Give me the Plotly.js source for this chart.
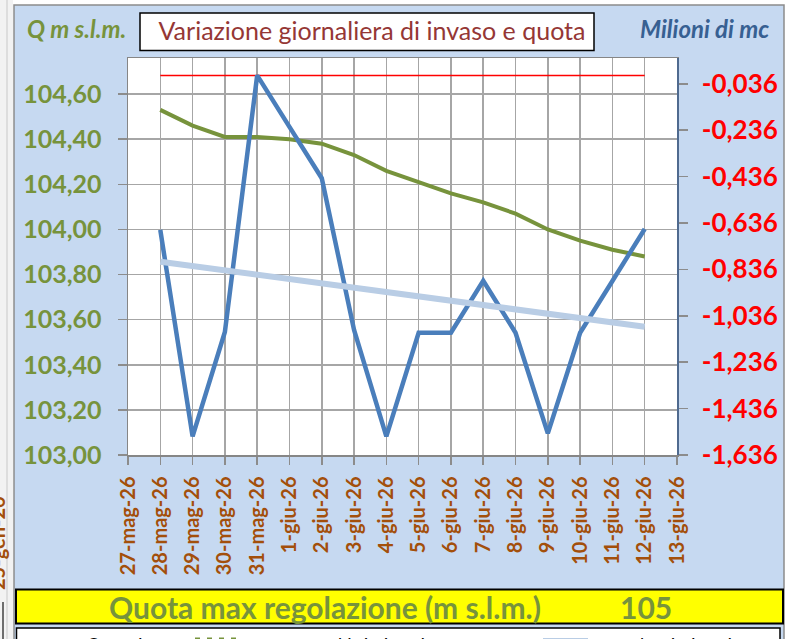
<!DOCTYPE html>
<html>
<head>
<meta charset="utf-8">
<script src="https://cdn.plot.ly/plotly-3.0.1.min.js"></script>
<style>
  html, body { margin: 0; padding: 0; background: #ffffff; }
  #chart { width: 802px; height: 639px; }
</style>
</head>
<body>
<div id="chart"></div>
<script>
// ---- data ----
const categories = ['27-mag-26','28-mag-26','29-mag-26','30-mag-26','31-mag-26','1-giu-26','2-giu-26','3-giu-26','4-giu-26','5-giu-26','6-giu-26','7-giu-26','8-giu-26','9-giu-26','10-giu-26','11-giu-26','12-giu-26','13-giu-26'];
const seriesDates = ['28-mag-26','29-mag-26','30-mag-26','31-mag-26','1-giu-26','2-giu-26','3-giu-26','4-giu-26','5-giu-26','6-giu-26','7-giu-26','8-giu-26','9-giu-26','10-giu-26','11-giu-26','12-giu-26'];
const quotaInvaso = [104.53,104.46,104.41,104.41,104.40,104.38,104.33,104.26,104.21,104.16,104.12,104.07,104.00,103.95,103.91,103.88];
const variazioneInvaso = [-0.666,-1.556,-1.106,0.000,-0.222,-0.443,-1.097,-1.556,-1.109,-1.109,-0.885,-1.109,-1.543,-1.109,-0.886,-0.662];
const trendVariazione = [-0.803,-0.822,-0.841,-0.859,-0.878,-0.897,-0.915,-0.934,-0.953,-0.971,-0.990,-1.009,-1.027,-1.046,-1.065,-1.083];
const maxVariazione = [0,0,0,0,0,0,0,0,0,0,0,0,0,0,0,0];
const rightTickVals = [-1.636,-1.436,-1.236,-1.036,-0.836,-0.636,-0.436,-0.236,-0.036];
const rightTickText = ['-1,636','-1,436','-1,236','-1,036','-0,836','-0,636','-0,436','-0,236','-0,036'];
const quotaMaxRegolazione = '105';

// ---- layout helpers (pixel -> paper) ----
const L = 128, R = 677, T = 58, B = 455;
const PX = x => (x - L) / (R - L);
const PY = y => (B - y) / (B - T);

const FONT = 'Lato, "Open Sans", sans-serif';
const GREEN = '#77933c', BLUE = '#4a7ebb', LBLUE = '#b9cde5', RED = '#ff0000', BROWN = '#a34f0b';

const traces = [
  { x: seriesDates, y: maxVariazione, yaxis: 'y2', type: 'scatter', mode: 'lines',
    line: { color: RED, width: 1.5 }, name: 'max', hoverinfo: 'skip' },
  { x: seriesDates, y: quotaInvaso, yaxis: 'y', type: 'scatter', mode: 'lines',
    line: { color: GREEN, width: 4 }, name: 'Quota invaso', hoverinfo: 'skip' },
  { x: seriesDates, y: variazioneInvaso, yaxis: 'y2', type: 'scatter', mode: 'lines',
    line: { color: BLUE, width: 4.5 }, name: 'Variazione invaso', hoverinfo: 'skip' },
  { x: seriesDates, y: trendVariazione, yaxis: 'y2', type: 'scatter', mode: 'lines',
    line: { color: LBLUE, width: 6 }, name: 'trend variazione invaso', hoverinfo: 'skip' }
];

const shapes = [
  // left grey strip
  { type: 'rect', xref: 'paper', yref: 'paper', layer: 'below',
    x0: PX(0), x1: PX(13), y0: PY(0), y1: PY(639), fillcolor: '#f2f2f2', line: { width: 0 } },
  { type: 'line', xref: 'paper', yref: 'paper', layer: 'below',
    x0: PX(7), x1: PX(7), y0: PY(0), y1: PY(639), line: { color: '#c8c8c8', width: 1 } },
  { type: 'line', xref: 'paper', yref: 'paper', layer: 'below',
    x0: PX(3), x1: PX(3), y0: PY(602), y1: PY(639), line: { color: '#404040', width: 1.5 } },
  // blue panel
  { type: 'rect', xref: 'paper', yref: 'paper', layer: 'below',
    x0: PX(14), x1: PX(784), y0: PY(5), y1: PY(645), fillcolor: '#c6d9f1', line: { color: '#8c8c8c', width: 1.5 } },
  // white plot area
  { type: 'rect', xref: 'paper', yref: 'paper', layer: 'below',
    x0: 0, x1: 1, y0: 0, y1: 1, fillcolor: '#ffffff', line: { width: 0 } },
  // title box
  { type: 'rect', xref: 'paper', yref: 'paper', layer: 'below',
    x0: PX(140), x1: PX(594), y0: PY(13), y1: PY(50.5), fillcolor: '#ffffff', line: { color: '#000000', width: 1.5 } },
  // yellow banner
  { type: 'rect', xref: 'paper', yref: 'paper', layer: 'below',
    x0: PX(16), x1: PX(783), y0: PY(589.5), y1: PY(623.5), fillcolor: '#ffff00', line: { color: '#000000', width: 2 } },
  // legend box
  { type: 'rect', xref: 'paper', yref: 'paper', layer: 'below',
    x0: PX(16.5), x1: PX(780), y0: PY(628), y1: PY(660), fillcolor: '#ffffff', line: { color: '#000000', width: 1.5 } },
  // legend swatches
  { type: 'line', xref: 'paper', yref: 'paper', layer: 'above',
    x0: PX(195), x1: PX(240), y0: PY(640), y1: PY(640), line: { color: GREEN, width: 5, dash: '5px,7px' } },
  { type: 'line', xref: 'paper', yref: 'paper', layer: 'above',
    x0: PX(543), x1: PX(588), y0: PY(641), y1: PY(641), line: { color: LBLUE, width: 6 } }
];

const annotations = [
  { text: '<b><i>Q m s.l.m.</i></b>', xref: 'paper', yref: 'paper', x: PX(76), y: PY(29),
    xanchor: 'center', yanchor: 'middle', showarrow: false, font: { family: FONT, size: 24, color: GREEN } },
  { text: '<b><i>Milioni di mc</i></b>', xref: 'paper', yref: 'paper', x: PX(704), y: PY(29),
    xanchor: 'center', yanchor: 'middle', showarrow: false, font: { family: FONT, size: 24, color: '#376092' } },
  { text: '<b>Quota max regolazione (m s.l.m.)</b>', xref: 'paper', yref: 'paper', x: PX(325), y: PY(607),
    xanchor: 'center', yanchor: 'middle', showarrow: false, font: { family: FONT, size: 30, color: GREEN } },
  { text: '<b>' + quotaMaxRegolazione + '</b>', xref: 'paper', yref: 'paper', x: PX(646), y: PY(607),
    xanchor: 'center', yanchor: 'middle', showarrow: false, font: { family: FONT, size: 30, color: GREEN } },
  { text: 'Quota invaso', xref: 'paper', yref: 'paper', x: PX(85), y: PY(644),
    xanchor: 'left', yanchor: 'middle', showarrow: false, font: { family: FONT, size: 17, color: '#000000' } },
  { text: 'max', xref: 'paper', yref: 'paper', x: PX(245), y: PY(644),
    xanchor: 'left', yanchor: 'middle', showarrow: false, font: { family: FONT, size: 17, color: '#000000' } },
  { text: 'Variazione invaso', xref: 'paper', yref: 'paper', x: PX(337), y: PY(644),
    xanchor: 'left', yanchor: 'middle', showarrow: false, font: { family: FONT, size: 17, color: '#000000' } },
  { text: 'trend variazione invaso', xref: 'paper', yref: 'paper', x: PX(602), y: PY(644),
    xanchor: 'left', yanchor: 'middle', showarrow: false, font: { family: FONT, size: 17, color: '#000000' } },
  { text: '<b>25-gen-26</b>', xref: 'paper', yref: 'paper', x: PX(-3), y: PY(543), textangle: -90,
    xanchor: 'center', yanchor: 'middle', showarrow: false, font: { family: FONT, size: 20, color: BROWN } }
];

const layout = {
  width: 802, height: 639,
  margin: { l: L, r: 802 - R, t: T, b: 639 - B, pad: 0 },
  paper_bgcolor: '#ffffff',
  plot_bgcolor: 'rgba(0,0,0,0)',
  separators: ',.',
  showlegend: false,
  title: { text: 'Variazione giornaliera di invaso e quota', xref: 'container', yref: 'container',
    x: 372 / 802, y: 1 - 31.5 / 639, xanchor: 'center', yanchor: 'middle',
    font: { family: FONT, size: 25, color: '#953735' } },
  xaxis: {
    type: 'category', categoryorder: 'array', categoryarray: categories,
    range: [0, categories.length - 1],
    tickmode: 'linear', tick0: 0, dtick: 1,
    tickangle: -90, ticks: 'outside', ticklen: 8, tickwidth: 1.5, tickcolor: '#8c8c8c',
    ticklabelstandoff: 4,
    tickfont: { family: FONT, size: 20, color: BROWN, weight: 'bold' },
    showgrid: true, gridcolor: '#a6a6a6', gridwidth: 1.5,
    showline: true, linecolor: '#868686', linewidth: 1.5, mirror: true,
    zeroline: false, fixedrange: true
  },
  yaxis: {
    range: [103, 104.76], tickmode: 'linear', tick0: 103, dtick: 0.2, tickformat: '.2f',
    ticks: 'outside', ticklen: 9, tickwidth: 1.5, tickcolor: '#8c8c8c',
    ticklabelstandoff: 11,
    tickfont: { family: FONT, size: 25, color: GREEN, weight: 'bold' },
    showgrid: true, gridcolor: '#a6a6a6', gridwidth: 1.5,
    showline: true, linecolor: '#868686', linewidth: 1.5, mirror: true,
    zeroline: false, fixedrange: true
  },
  yaxis2: {
    overlaying: 'y', side: 'right',
    range: [-1.636, 0.075], tickmode: 'array', tickvals: rightTickVals, ticktext: rightTickText,
    ticks: 'outside', ticklen: 9, tickwidth: 1.5, tickcolor: '#8c8c8c',
    ticklabelstandoff: 9,
    tickfont: { family: FONT, size: 26, color: RED, weight: 'bold' },
    showgrid: false, showline: true, linecolor: '#4f6a8f', linewidth: 1.5,
    zeroline: false, fixedrange: true
  },
  shapes: shapes,
  annotations: annotations
};

Plotly.newPlot('chart', traces, layout, { displayModeBar: false, staticPlot: true });
</script>
</body>
</html>
